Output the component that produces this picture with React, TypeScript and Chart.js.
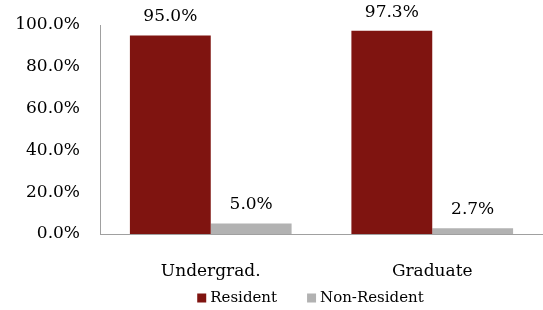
import React, { useEffect, useRef } from "react";
import { Chart, registerables } from "chart.js";
Chart.register(...registerables);

const categories = ["Undergrad.", "Graduate"];
const seriesNames = ["Resident", "Non-Resident"];
const residentValues = [95.0, 97.3];
const nonResidentValues = [5.0, 2.7];
const yTicks = [0, 20, 40, 60, 80, 100];
const colors = ["#7f1410", "#b2b2b2"];

const FONT = "DejaVu Serif";

const valueLabels = {
  id: "valueLabels",
  afterDatasetsDraw(chart: any) {
    const ctx = chart.ctx;
    ctx.save();
    ctx.font = `17px "${FONT}"`;
    ctx.fillStyle = "#000";
    ctx.textAlign = "center";
    ctx.textBaseline = "bottom";
    chart.data.datasets.forEach((ds: any, i: number) => {
      const meta = chart.getDatasetMeta(i);
      meta.data.forEach((bar: any, j: number) => {
        ctx.fillText(ds.data[j].toFixed(1) + "%", bar.x, bar.y - 10);
      });
    });
    ctx.restore();
  },
};

const customLegend = {
  id: "customLegend",
  afterDraw(chart: any) {
    const ctx = chart.ctx;
    ctx.save();
    ctx.font = `15px "${FONT}"`;
    ctx.textBaseline = "middle";
    ctx.textAlign = "left";
    const box = 9, gap = 4, spacing = 30;
    const items = chart.data.datasets.map((ds: any) => ({
      text: ds.label,
      color: ds.backgroundColor,
      w: ctx.measureText(ds.label).width,
    }));
    const total = items.reduce((s: number, it: any) => s + box + gap + it.w, 0) + spacing * (items.length - 1);
    const center = (chart.chartArea.left + chart.chartArea.right) / 2 - 11;
    let x = center - total / 2;
    const cy = chart.height - 12;
    items.forEach((it: any) => {
      ctx.fillStyle = it.color;
      ctx.fillRect(x, cy - box / 2, box, box);
      x += box + gap;
      ctx.fillStyle = "#000";
      ctx.fillText(it.text, x, cy);
      x += it.w + spacing;
    });
    ctx.restore();
  },
};

export default function App() {
  const ref = useRef<HTMLCanvasElement>(null);
  useEffect(() => {
    Chart.defaults.font.family = FONT;
    const chart = new Chart(ref.current!, {
      type: "bar",
      data: {
        labels: categories,
        datasets: [
          { label: seriesNames[0], data: residentValues, backgroundColor: colors[0] },
          { label: seriesNames[1], data: nonResidentValues, backgroundColor: colors[1] },
        ],
      },
      options: {
        animation: false,
        responsive: false,
        layout: { padding: { top: 25, right: 0, left: 0, bottom: 29 } },
        datasets: { bar: { barPercentage: 1, categoryPercentage: 0.73 } },
        plugins: {
          tooltip: { enabled: false },
          legend: { display: false },
        },
        scales: {
          x: {
            grid: { display: false, drawTicks: false },
            border: { color: "#a0a0a0" },
            ticks: { font: { family: FONT, size: 17 }, color: "#000", padding: 27, maxRotation: 0 },
            afterFit: (axis: any) => {
              axis.height = 47;
            },
          },
          y: {
            min: 0,
            max: 100,
            afterBuildTicks: (axis: any) => {
              axis.ticks = yTicks.map((v) => ({ value: v }));
            },
            afterFit: (axis: any) => {
              axis.width = 100;
              axis.paddingTop = 0;
              axis.paddingBottom = 0;
            },
            grid: { display: false, drawTicks: false },
            border: { color: "#a0a0a0" },
            ticks: {
              font: { family: FONT, size: 17 },
              color: "#000",
              padding: 20,
              callback: (v: any) => Number(v).toFixed(1) + "%",
            },
          },
        },
      },
      plugins: [valueLabels, customLegend],
    });
    return () => chart.destroy();
  }, []);
  return (
    <div style={{ position: "fixed", left: 0, top: 0, width: 543, height: 310, overflow: "hidden" }}>
      <canvas ref={ref} width={543} height={310} style={{ display: "block" }} />
    </div>
  );
}
